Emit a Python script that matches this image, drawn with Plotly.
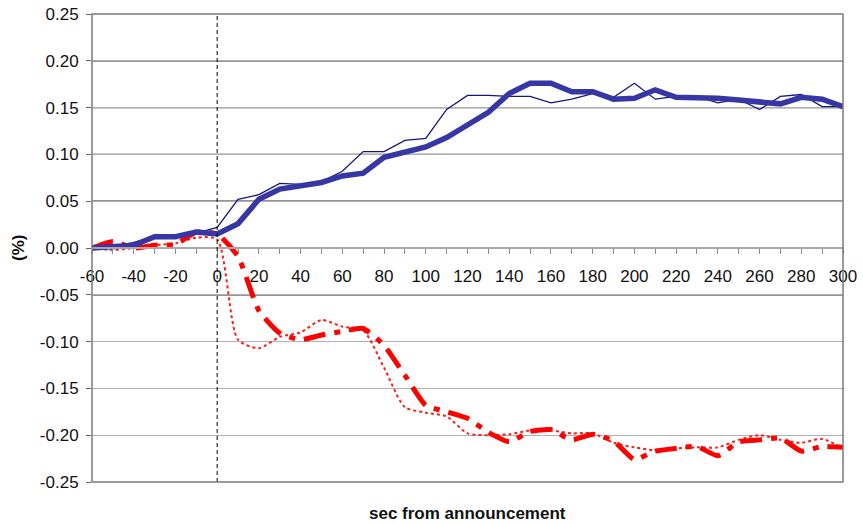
import plotly.graph_objects as go

# ---- data ----
sec = [-60, -50, -40, -30, -20, -10, 0, 10, 20, 30, 40, 50, 60, 70, 80, 90, 100,
       110, 120, 130, 140, 150, 160, 170, 180, 190, 200, 210, 220, 230, 240,
       250, 260, 270, 280, 290, 300]

blue_thick = [0.000, 0.001, 0.003, 0.012, 0.012, 0.017, 0.015, 0.026, 0.052, 0.063,
              0.067, 0.070, 0.077, 0.080, 0.097, 0.103, 0.108, 0.118, 0.131, 0.145,
              0.165, 0.176, 0.176, 0.167, 0.167, 0.159, 0.160, 0.169, 0.161, 0.161,
              0.160, 0.158, 0.156, 0.154, 0.161, 0.159, 0.151]

blue_thin = [0.000, 0.001, 0.006, 0.012, 0.012, 0.016, 0.022, 0.052, 0.057, 0.069,
             0.068, 0.071, 0.082, 0.103, 0.103, 0.115, 0.117, 0.148, 0.163, 0.163,
             0.162, 0.162, 0.155, 0.159, 0.165, 0.161, 0.176, 0.159, 0.162, 0.162,
             0.155, 0.159, 0.148, 0.162, 0.164, 0.151, 0.151]

red_thick = [0.000, 0.007, 0.000, 0.003, 0.004, 0.017, 0.015, -0.009, -0.067, -0.091,
             -0.098, -0.093, -0.089, -0.086, -0.104, -0.136, -0.168, -0.175, -0.182, -0.197,
             -0.207, -0.196, -0.194, -0.205, -0.199, -0.206, -0.226, -0.217, -0.214, -0.212,
             -0.222, -0.207, -0.205, -0.203, -0.217, -0.212, -0.213]

red_dot = [0.000, -0.002, 0.000, 0.003, 0.005, 0.011, 0.009, -0.098, -0.107, -0.095,
           -0.090, -0.077, -0.084, -0.088, -0.128, -0.170, -0.176, -0.180, -0.198, -0.200,
           -0.199, -0.195, -0.195, -0.198, -0.198, -0.208, -0.213, -0.216, -0.214, -0.213,
           -0.213, -0.205, -0.200, -0.205, -0.208, -0.204, -0.214]

x_tick_vals = [-60, -40, -20, 0, 20, 40, 60, 80, 100, 120, 140, 160, 180, 200, 220,
               240, 260, 280, 300]
x_tick_text = ["-60", "-40", "-20", "0", "20", "40", "60", "80", "100", "120", "140",
               "160", "180", "200", "220", "240", "260", "280", "300"]
y_tick_vals = [-0.25, -0.20, -0.15, -0.10, -0.05, 0.00, 0.05, 0.10, 0.15, 0.20, 0.25]
y_tick_text = ["-0.25", "-0.20", "-0.15", "-0.10", "-0.05", "0.00", "0.05", "0.10",
               "0.15", "0.20", "0.25"]
dark_grid = [0.05, 0.10, 0.15, 0.20, -0.05]

FONT = "Liberation Sans, Arial, sans-serif"

fig = go.Figure()

fig.add_trace(go.Scatter(x=sec, y=red_dot, mode="lines",
                         line=dict(color="#ff1a1a", width=2, dash="dot",
                                   shape="spline", smoothing=0.7),
                         showlegend=False))
fig.add_trace(go.Scatter(x=sec, y=red_thick, mode="lines",
                         line=dict(color="#ff0000", width=5,
                                   dash="22px,9px,6px,9px",
                                   shape="spline", smoothing=0.5),
                         showlegend=False))
fig.add_trace(go.Scatter(x=sec, y=blue_thin, mode="lines",
                         line=dict(color="#15157e", width=1.3),
                         showlegend=False))
fig.add_trace(go.Scatter(x=sec, y=blue_thick, mode="lines",
                         line=dict(color="#3636a4", width=5.5),
                         showlegend=False))

shapes = []
for g in dark_grid:
    shapes.append(dict(type="line", xref="paper", yref="y", x0=0, x1=1, y0=g, y1=g,
                       line=dict(color="#2a2a2a", width=1.2), layer="below"))
# announcement marker
shapes.append(dict(type="line", xref="x", yref="paper", x0=0, x1=0, y0=0, y1=1,
                   line=dict(color="#000000", width=1, dash="4px,3px")))
# plot frame
shapes.append(dict(type="rect", xref="paper", yref="paper", x0=0, x1=1, y0=0, y1=1,
                   line=dict(color="#7a7a7a", width=1.5)))

fig.update_layout(
    width=863, height=524,
    margin=dict(l=92, r=20, t=14, b=42, autoexpand=False),
    paper_bgcolor="white", plot_bgcolor="white",
    font=dict(family=FONT, size=17, color="#111111"),
    shapes=shapes,
    xaxis=dict(range=[-60, 300], anchor="free", position=0.5, automargin=False,
               showline=True, linecolor="#a8a8a8", linewidth=1.5,
               showgrid=False, zeroline=False,
               tickmode="array", tickvals=x_tick_vals, ticktext=x_tick_text,
               ticks="outside", ticklen=5, tickcolor="#8a8a8a", tickwidth=1,
               ticklabelstandoff=8,
               minor=dict(dtick=10, tick0=-60, ticks="outside", ticklen=5,
                          tickcolor="#8a8a8a", showgrid=False),
               tickfont=dict(family=FONT, size=17, color="#111111")),
    yaxis=dict(range=[-0.25, 0.25], showgrid=True, gridcolor="#b0b0b0", gridwidth=1,
               zeroline=False, showline=False, automargin=False,
               tickmode="array", tickvals=y_tick_vals, ticktext=y_tick_text,
               ticks="outside", ticklen=5, tickcolor="#666666",
               ticklabelstandoff=4,
               tickfont=dict(family=FONT, size=17, color="#111111")),
    annotations=[
        dict(text="<b>(%)</b>", xref="paper", yref="paper", x=-0.0985, y=0.5,
             xanchor="center", yanchor="middle", textangle=-90, showarrow=False,
             font=dict(family=FONT, size=17, color="#111111")),
        dict(text="<b>sec from announcement</b>", xref="paper", yref="paper",
             x=0.5, y=-0.068, xanchor="center", yanchor="middle", showarrow=False,
             font=dict(family=FONT, size=17, color="#111111")),
    ],
)

fig.write_html("out.html")
